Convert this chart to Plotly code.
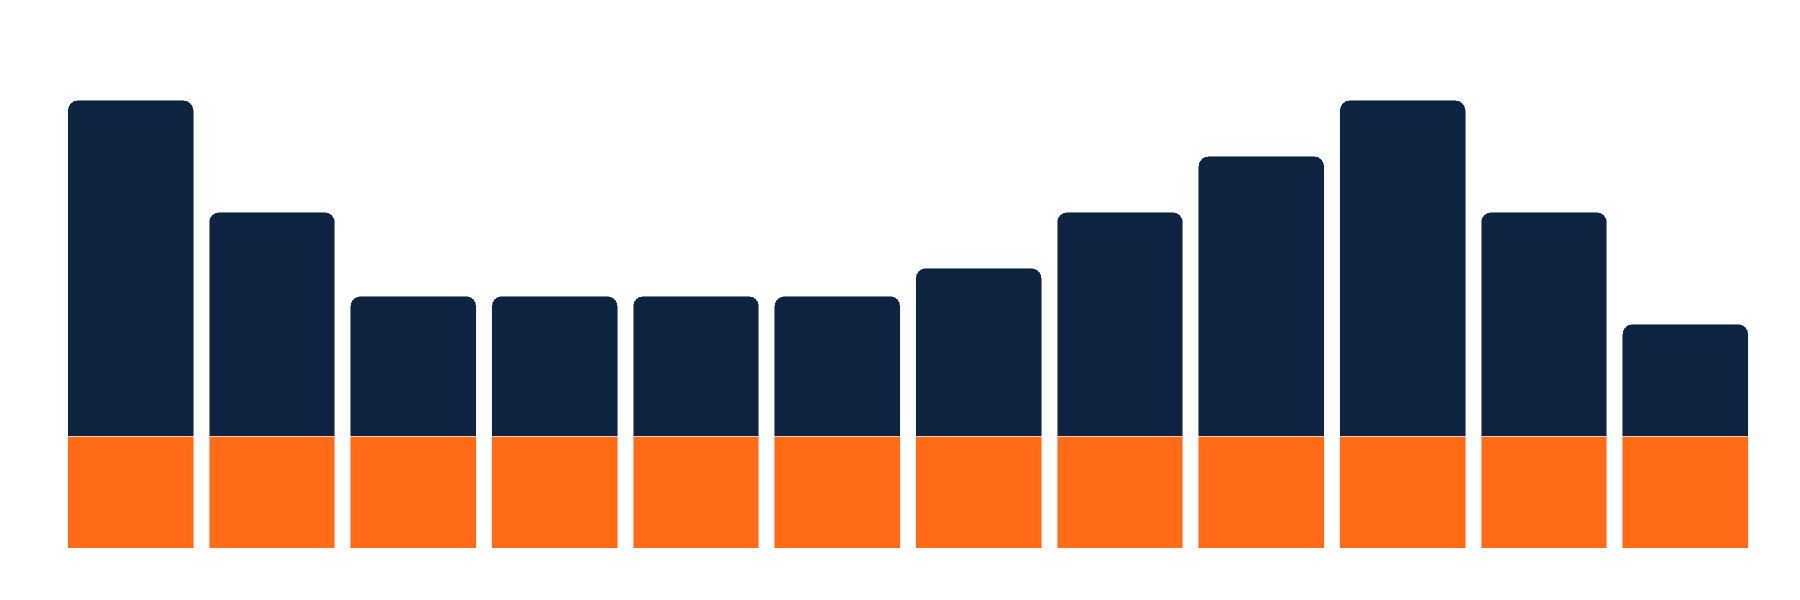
import plotly.graph_objects as go

# Categories and values
months = ["Jan", "Feb", "Mar", "Apr", "May", "Jun",
          "Jul", "Aug", "Sep", "Oct", "Nov", "Dec"]
base_values = [20, 20, 20, 20, 20, 20, 20, 20, 20, 20, 20, 20]
top_values = [60, 40, 25, 25, 25, 25, 30, 40, 50, 60, 40, 20]

NAVY = "#0E2340"
ORANGE = "#FF6B17"

fig = go.Figure()

# bottom segment (constant)
fig.add_trace(go.Bar(
    x=months,
    y=base_values,
    marker=dict(color=ORANGE, line=dict(width=0.5, color="#E5ECF6")),
    hoverinfo="x+y",
))

# top segment (varies per month)
fig.add_trace(go.Bar(
    x=months,
    y=top_values,
    marker=dict(color=NAVY, line=dict(width=0.5, color="#E5ECF6")),
    hoverinfo="x+y",
))

fig.update_layout(
    barmode="stack",
    bargap=0.11,
    barcornerradius=10,
    showlegend=False,
    width=1800,
    height=600,
    margin=dict(l=52, r=52, t=70, b=60),
    plot_bgcolor="white",
    paper_bgcolor="white",
    xaxis=dict(visible=False),
    yaxis=dict(visible=False, range=[0, 84]),
)

fig.write_html("out.html")
